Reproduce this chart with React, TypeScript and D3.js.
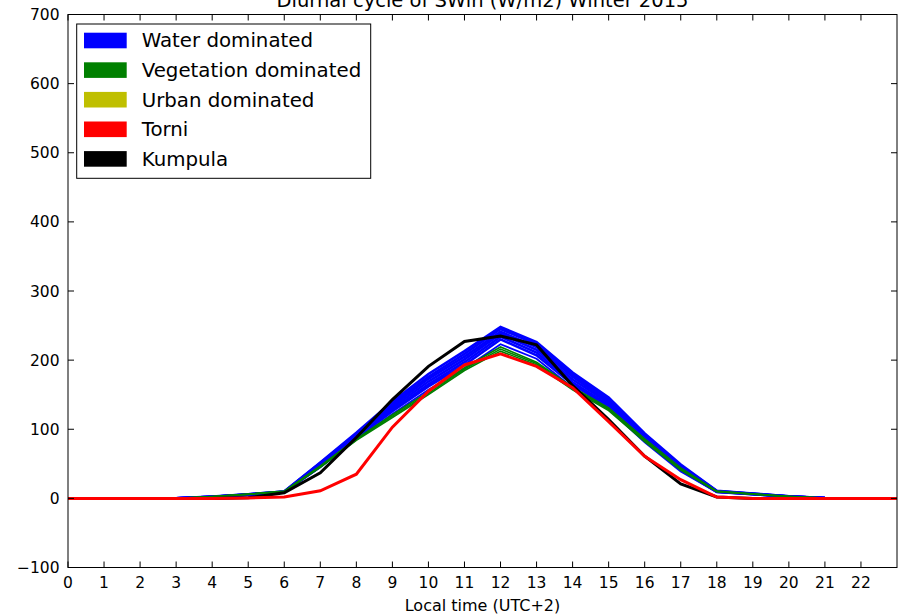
import React from "react";
import * as d3 from "d3";

const hours = d3.range(0, 24);
const xTicks = d3.range(0, 23);
const yTicks = [-100, 0, 100, 200, 300, 400, 500, 600, 700];

const title = "Diurnal cycle of SWin (W/m2) Winter 2015";
const xLabel = "Local time (UTC+2)";

const legendLabels = ["Water dominated", "Vegetation dominated", "Urban dominated", "Torni", "Kumpula"];
const legendColors = ["#0000ff", "#008000", "#bfbf00", "#ff0000", "#000000"];

// Water dominated grid cells (thin blue lines)
const water1 = [0, 0, 0, 0, 2.5, 6, 10, 52, 95, 140, 180, 213, 248, 226, 182, 146, 94, 49, 11, 7, 3, 0.5, 0, 0];
const water2 = [0, 0, 0, 0, 2.4, 5.8, 9.8, 51, 93, 137, 176, 209, 245, 223, 179, 143, 92, 47, 10.6, 6.8, 2.9, 0.5, 0, 0];
const water3 = [0, 0, 0, 0, 2.3, 5.6, 9.6, 50, 92, 134, 173, 205, 241, 219, 176, 140, 90, 46, 10.3, 6.6, 2.8, 0.5, 0, 0];
const water4 = [0, 0, 0, 0, 2.2, 5.4, 9.4, 48, 90, 131, 169, 201, 238, 215, 172, 138, 88, 44, 10, 6.4, 2.7, 0.5, 0, 0];
const water5 = [0, 0, 0, 0, 2.1, 5.2, 9.2, 47, 88, 128, 165, 197, 234, 211, 168, 135, 86, 42, 9.6, 6.2, 2.6, 0.5, 0, 0];
const water6 = [0, 0, 0, 0, 2, 5, 9, 46, 87, 126, 162, 193, 230, 207, 165, 132, 84, 41, 9.3, 6, 2.5, 0.5, 0, 0];
const water7 = [0, 0, 0, 0, 2, 5, 9, 45, 85, 122, 157, 188, 223, 202, 160, 129, 81, 39, 9, 5.8, 2.4, 0.4, 0, 0];
const waterUpper = [water1, water2, water3, water4, water5, water6];
const waterLower = [water7];

// Vegetation dominated grid cells (thin green lines)
const veg1 = [0, 0, 0, 0, 2.8, 6.2, 10.5, 47, 86, 121, 154, 189, 219, 197, 161, 131, 86, 44, 10.5, 6.5, 3, 0.6, 0, 0];
const veg2 = [0, 0, 0, 0, 2.6, 6, 10, 46, 85, 119, 152, 187, 216, 195, 159, 129, 84, 42, 10, 6.2, 2.8, 0.5, 0, 0];
const veg3 = [0, 0, 0, 0, 2.4, 5.8, 9.8, 45, 84, 117, 150, 185, 213, 193, 157, 127, 82, 41, 9.6, 6, 2.6, 0.5, 0, 0];
const vegSeries = [veg1, veg2, veg3];

// Single stations (thick lines)
const torni = [0, 0, 0, 0, 0, 0.5, 2, 11, 35, 103, 155, 193, 209, 191, 160, 111, 61, 27, 2, 0, 0, 0, 0, 0];
const kumpula = [0, 0, 0, 0, 0, 1, 8, 37, 88, 143, 191, 227, 235, 222, 163, 114, 61, 21, 2, 0, 0, 0, 0, 0];

const W = 904;
const H = 616;
const left = 68;
const right = 897;
const top = 14.5;
const bottom = 567.5;
const font = "'DejaVu Sans', sans-serif";

export default function App() {
  const x = d3.scaleLinear().domain([0, 23]).range([left, right]);
  const y = d3.scaleLinear().domain([-100, 700]).range([bottom, top]);
  const line = d3
    .line<number>()
    .x((_, i) => x(hours[i]))
    .y((d) => y(d));

  const tickLen = 6;

  return (
    <div style={{ position: "absolute", left: 0, top: 0 }}>
      <svg width={W} height={H} style={{ display: "block", background: "#fff" }}>
        <rect x={0} y={0} width={W} height={H} fill="#fff" />
        <defs>
          <clipPath id="plotclip">
            <rect x={left} y={top} width={right - left} height={bottom - top} />
          </clipPath>
        </defs>
        <g clipPath="url(#plotclip)" fill="none" strokeLinejoin="miter">
          {waterUpper.map((s, i) => (
            <path key={"w" + i} d={line(s) || ""} stroke="#0000ff" strokeWidth={2.6} />
          ))}
          {waterLower.map((s, i) => (
            <path key={"wl" + i} d={line(s) || ""} stroke="#0000ff" strokeWidth={1.8} />
          ))}
          {vegSeries.map((s, i) => (
            <path key={"g" + i} d={line(s) || ""} stroke="#008000" strokeWidth={1.6} />
          ))}
          <path d={line(kumpula) || ""} stroke="#000000" strokeWidth={3} />
          <path d={line(torni) || ""} stroke="#ff0000" strokeWidth={3} />
        </g>

        {/* axes frame */}
        <rect x={left} y={top} width={right - left} height={bottom - top} fill="none" stroke="#000" strokeWidth={1} />

        {/* x ticks */}
        {xTicks.map((t) => (
          <g key={"xt" + t}>
            <line x1={x(t)} x2={x(t)} y1={bottom} y2={bottom - tickLen} stroke="#000" strokeWidth={1} />
            <line x1={x(t)} x2={x(t)} y1={top} y2={top + tickLen} stroke="#000" strokeWidth={1} />
            <text x={x(t)} y={588} textAnchor="middle" fontFamily={font} fontSize={15.5} fill="#000">
              {t}
            </text>
          </g>
        ))}

        {/* y ticks */}
        {yTicks.map((t) => (
          <g key={"yt" + t}>
            <line x1={left} x2={left + tickLen} y1={y(t)} y2={y(t)} stroke="#000" strokeWidth={1} />
            <line x1={right} x2={right - tickLen} y1={y(t)} y2={y(t)} stroke="#000" strokeWidth={1} />
            <text x={59.5} y={y(t) + 5.6} textAnchor="end" fontFamily={font} fontSize={15.5} fill="#000">
              {t < 0 ? "\u2212" + Math.abs(t) : t}
            </text>
          </g>
        ))}

        {/* title */}
        <text x={(left + right) / 2} y={6.5} textAnchor="middle" fontFamily={font} fontSize={19.5} fill="#000">
          {title}
        </text>

        {/* x label */}
        <text x={(left + right) / 2} y={611} textAnchor="middle" fontFamily={font} fontSize={16} fill="#000">
          {xLabel}
        </text>

        {/* legend */}
        <rect x={76.7} y={24} width={294} height={154.3} fill="#fff" stroke="#000" strokeWidth={1} />
        {legendLabels.map((lab, i) => {
          const py = 32.7 + i * 29.6;
          return (
            <g key={"lg" + i}>
              <rect x={84} y={py} width={42.7} height={15.6} fill={legendColors[i]} />
              <text x={141.7} y={py + 14.6} fontFamily={font} fontSize={19.8} fill="#000">
                {lab}
              </text>
            </g>
          );
        })}
      </svg>
    </div>
  );
}
